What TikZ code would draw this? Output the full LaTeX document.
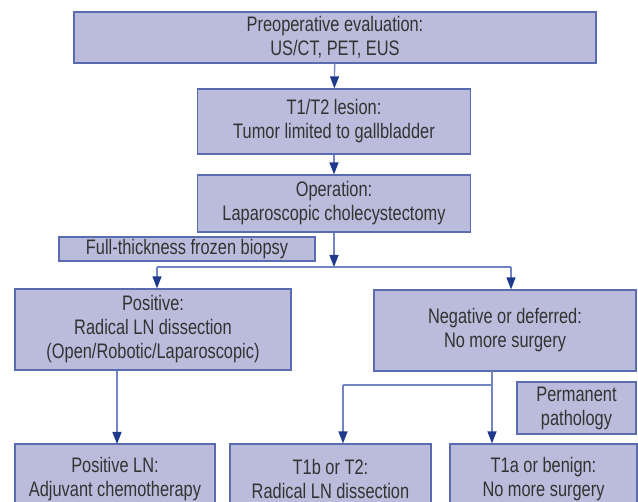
\documentclass[tikz,border=0pt]{standalone}
\usepackage{fontspec}
\setmainfont[FakeStretch=0.78]{Liberation Sans}
\usetikzlibrary{arrows.meta}
\definecolor{boxfill}{HTML}{BBBBDB}
\definecolor{boxline}{HTML}{5A6CB0}
\definecolor{conline}{HTML}{7384C4}
\definecolor{tipcol}{HTML}{1F3A8C}
\definecolor{txt}{HTML}{333333}
\tikzset{
  fbox/.style={draw=boxline, fill=boxfill, line width=1.2pt, inner sep=0pt,
    align=center, text=txt, font=\fontsize{21}{24}\selectfont},
  conn/.style={draw=conline, line width=1.3pt},
  arr/.style={conn, -{Triangle[width=9pt,length=12pt,fill=tipcol,color=tipcol]}}
}
\begin{document}
\begin{tikzpicture}[x=1pt,y=-1pt]
\useasboundingbox (0,0) rectangle (638,502);
\clip (0,0) rectangle (638,502);
\node[fbox, minimum width=522pt, minimum height=51pt] (top) at (335,37.5) {Preoperative evaluation:\\US/CT, PET, EUS};
\node[fbox, minimum width=273pt, minimum height=65pt] (t12) at (334,121.5) {T1/T2 lesion:\\Tumor limited to gallbladder};
\node[fbox, minimum width=273pt, minimum height=57pt] (op) at (334,203.5) {Operation:\\Laparoscopic cholecystectomy};
\node[fbox, minimum width=256pt, minimum height=24pt] (ft) at (187,249) {Full-thickness frozen biopsy};
\node[fbox, minimum width=276pt, minimum height=81pt] (pos) at (153,329.5) {Positive:\\Radical LN dissection\\(Open/Robotic/Laparoscopic)};
\node[fbox, minimum width=262pt, minimum height=81pt] (neg) at (505,330.5) {Negative or deferred:\\No more surgery};
\node[fbox, minimum width=119pt, minimum height=52pt] (perm) at (576.5,408) {Permanent\\pathology};
\node[fbox, minimum width=200pt, minimum height=70pt] (b1) at (115,479) {Positive LN:\\Adjuvant chemotherapy};
\node[fbox, minimum width=201pt, minimum height=70pt] (b2) at (330.5,479) {T1b or T2:\\Radical LN dissection};
\node[fbox, minimum width=187pt, minimum height=70pt] (b3) at (543.5,479) {T1a or benign:\\No more surgery};
\coordinate (j) at (334,267);
\coordinate (jl) at (157,267);
\coordinate (jr) at (511,267);
\coordinate (nd) at (492,371);
\coordinate (nb) at (492,385);
\coordinate (nl) at (343,385);
\draw[arr] (top) -- (t12);
\draw[arr] (t12) -- (op);
\draw[arr] (op.south) -- (j);
\draw[conn] (jl) -- (jr);
\draw[arr] (jl) -- (jl |- pos.north);
\draw[arr] (jr) -- (jr |- neg.north);
\draw[arr] (pos.south -| 117,0) -- (117,444);
\draw[arr] (nd) -- (nd |- b3.north);
\draw[conn] (nb) -- (nl);
\draw[arr] (nl) -- (nl |- b2.north);
\end{tikzpicture}
\end{document}
